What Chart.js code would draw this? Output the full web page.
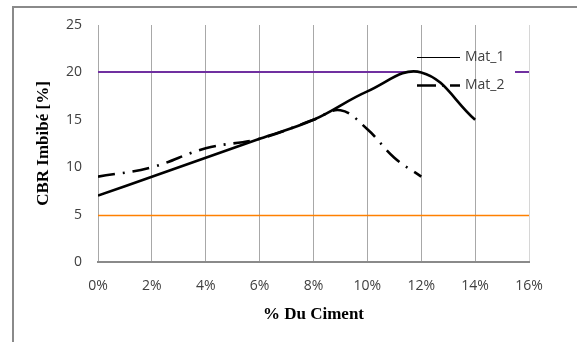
<!DOCTYPE html>
<html>
<head>
<meta charset="utf-8">
<script src="https://cdn.jsdelivr.net/npm/chart.js@4/dist/chart.umd.min.js"></script>
<style>
  html, body { margin: 0; padding: 0; background: #fff; }
  #wrap { position: relative; width: 577px; height: 342px; overflow: hidden; }
  #frame { position: absolute; left: 12px; top: 6px; width: 700px; height: 500px;
           border-top: 2px solid #8a8a8a; border-left: 2px solid #8a8a8a; }
  canvas { position: absolute; left: 0; top: 0; }
</style>
</head>
<body>
<div id="wrap">
  <div id="frame"></div>
  <canvas id="c" width="577" height="342"></canvas>
</div>
<script>
// Dosage en ciment (%) et CBR imbibé (%) pour chaque matériau
const cimentMat1 = [0, 2, 4, 6, 8, 10, 12, 14];
const cbrMat1    = [7, 9, 11, 13, 15, 18, 20, 15];
const cimentMat2 = [0, 2, 4, 6, 8, 9, 10, 11, 12];
const cbrMat2    = [9, 10, 12, 13, 15, 16, 14, 11, 9];

// Seuils horizontaux de CBR
const seuilHaut = 20;
const seuilBas  = 5;

// Axes
const xTicks = [0, 2, 4, 6, 8, 10, 12, 14, 16];
const yTicks = [0, 5, 10, 15, 20, 25];

const toPoints = (xs, ys) => xs.map((x, i) => ({ x: x, y: ys[i] }));

// Seuils et légende, tracés sous les courbes
const seuilsEtLegende = {
  id: 'seuilsEtLegende',
  beforeDatasetsDraw(chart) {
    const { ctx, chartArea: a, scales } = chart;
    const yS = scales.y;
    // zone de la légende, dans le coin haut droit du graphique
    const legLeft = a.right - 121;
    const legRight = a.right - 14;
    ctx.save();
    // seuil haut (interrompu par la légende)
    let y = Math.round(yS.getPixelForValue(seuilHaut));
    ctx.strokeStyle = '#7030a0';
    ctx.lineWidth = 2;
    ctx.beginPath();
    ctx.moveTo(a.left, y); ctx.lineTo(legLeft, y);
    ctx.moveTo(legRight, y); ctx.lineTo(a.right, y);
    ctx.stroke();
    // seuil bas
    y = Math.round(yS.getPixelForValue(seuilBas)) + 0.5;
    ctx.strokeStyle = '#ff8000';
    ctx.lineWidth = 1.5;
    ctx.beginPath();
    ctx.moveTo(a.left, y); ctx.lineTo(a.right, y);
    ctx.stroke();

    // légende
    const x0 = legLeft + 9, x1 = legLeft + 52;
    const rows = [a.top + 32, a.top + 60];
    ctx.font = '14px "Open Sans"';
    ctx.fillStyle = '#404040';
    ctx.textBaseline = 'middle';
    ctx.textAlign = 'left';
    chart.data.datasets.forEach((ds, i) => {
      const ry = rows[i] + 0.5;
      ctx.strokeStyle = '#000';
      if (i === 0) {
        ctx.lineWidth = 1.2;
        ctx.setLineDash([]);
      } else {
        ctx.lineWidth = 2.6;
        ctx.setLineDash([19, 6, 2, 6]);
      }
      ctx.beginPath();
      ctx.moveTo(x0, ry); ctx.lineTo(x1, ry);
      ctx.stroke();
      ctx.setLineDash([]);
      ctx.fillText(ds.label, x1 + 5, rows[i]);
    });
    ctx.restore();
  }
};

new Chart(document.getElementById('c'), {
  type: 'line',
  data: {
    datasets: [
      {
        label: 'Mat_1',
        data: toPoints(cimentMat1, cbrMat1),
        borderColor: '#000',
        borderWidth: 2.6,
        pointRadius: 0,
        tension: 0.4,
        fill: false
      },
      {
        label: 'Mat_2',
        data: toPoints(cimentMat2, cbrMat2),
        borderColor: '#000',
        borderWidth: 2.6,
        borderDash: [17, 8, 2, 8],
        pointRadius: 0,
        tension: 0.4,
        fill: false
      }
    ]
  },
  options: {
    responsive: false,
    animation: false,
    layout: { padding: { left: 0, top: 25, right: 48, bottom: 0 } },
    plugins: { legend: { display: false }, tooltip: { enabled: false } },
    scales: {
      x: {
        type: 'linear',
        min: xTicks[0],
        max: xTicks[xTicks.length - 1],
        afterBuildTicks: s => { s.ticks = xTicks.map(v => ({ value: v })); },
        afterFit: s => { s.height = 80; },
        grid: {
          drawTicks: false,
          color: c => (c.index === xTicks.length - 1 ? '#d6d6d6' : '#a8a8a8'),
          lineWidth: 1
        },
        border: { display: true, color: '#8a8a8a', width: 2 },
        ticks: {
          padding: 16,
          color: '#404040',
          font: { family: '"Open Sans"', size: 14 },
          callback: v => v + '%'
        },
        title: {
          display: true,
          text: '% Du Ciment',
          color: '#000',
          font: { family: '"Liberation Serif"', size: 17, weight: 'bold' },
          padding: { bottom: 17 }
        }
      },
      y: {
        min: yTicks[0],
        max: yTicks[yTicks.length - 1],
        afterBuildTicks: s => { s.ticks = yTicks.map(v => ({ value: v })); },
        afterFit: s => { s.width = 98; },
        grid: { display: false, drawTicks: false },
        border: { display: false },
        ticks: {
          padding: 16,
          color: '#404040',
          font: { family: '"Open Sans"', size: 14 }
        },
        title: {
          display: true,
          text: 'CBR Imbibé [%]',
          color: '#000',
          font: { family: '"Liberation Serif"', size: 17, weight: 'bold' },
          padding: { top: 33 }
        }
      }
    }
  },
  plugins: [seuilsEtLegende]
});
</script>
</body>
</html>
